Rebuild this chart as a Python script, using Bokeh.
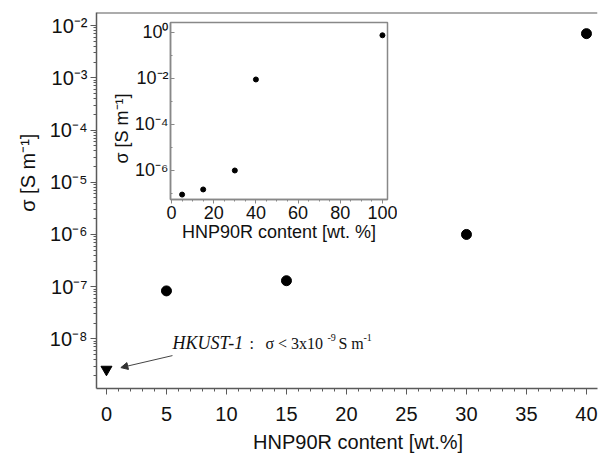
from bokeh.plotting import figure
from bokeh.models import (Range1d, FixedTicker, Span, Arrow, NormalHead,
                          ColumnDataSource, InlineStyleSheet)
from bokeh.layouts import column
from bokeh.embed import file_html
from bokeh.resources import INLINE
from bokeh.core.properties import value

# ---- data ----
content = [5, 15, 30, 40]
sigma = [8.3e-8, 1.3e-7, 1.0e-6, 7.0e-3]
hkust_content = [0]
hkust_sigma = [2.6e-9]

inset_content = [5, 15, 30, 40, 100]
inset_sigma = [9.0e-8, 1.5e-7, 1.0e-6, 9.0e-3, 0.75]

main_xticks = [0, 5, 10, 15, 20, 25, 30, 35, 40]
main_yticks = [1e-8, 1e-7, 1e-6, 1e-5, 1e-4, 1e-3, 1e-2]
main_ylabels = ["10⁻⁸", "10⁻⁷", "10⁻⁶", "10⁻⁵", "10⁻⁴", "10⁻³", "10⁻²"]
inset_xticks = [0, 20, 40, 60, 80, 100]
inset_yticks = [1e-6, 1e-4, 1e-2, 1e0]
inset_yminor = [1e-7, 1e-5, 1e-3, 1e-1]
inset_ylabels = ["10⁻⁶", "10⁻⁴", "10⁻²", "10⁰"]

annot_parts = ["HKUST-1", ":", "σ < 3x10", "-9", "S m", "-1"]
ylabel_text = "σ [S m⁻¹]"

FONT = "Liberation Sans"
SERIF = "Liberation Serif"
AXC = "#5a5a5a"
NBSP = "\u00a0"

# ---- main figure ----
p = figure(width=607, height=455, y_axis_type="log",
           x_range=Range1d(-0.83, 40.92), y_range=Range1d(10**-8.95, 10**-1.75),
           output_backend="svg", toolbar_location=None,
           min_border_left=96, min_border_right=10, min_border_top=12, min_border_bottom=64)
p.outline_line_color = None
p.grid.visible = False
p.background_fill_color = "white"

p.xaxis.ticker = FixedTicker(ticks=main_xticks,
                             minor_ticks=[i for i in range(0, 41)])
p.yaxis.ticker = FixedTicker(ticks=main_yticks,
                             minor_ticks=[m * 10.0**e for e in range(-9, -1) for m in range(2, 10)])
p.yaxis.major_label_overrides = {t: l for t, l in zip(main_yticks, main_ylabels)}

for ax in (p.xaxis[0], p.yaxis[0]):
    ax.axis_line_color = AXC
    ax.axis_line_width = 1.5
    ax.major_tick_line_color = AXC
    ax.minor_tick_line_color = AXC
    ax.major_tick_in = 0
    ax.major_tick_out = 6
    ax.minor_tick_in = 0
    ax.minor_tick_out = 3
    ax.major_label_text_font = FONT
    ax.major_label_text_font_size = "20px"
    ax.major_label_text_color = "#111"
    ax.axis_label_text_font = FONT
    ax.axis_label_text_font_size = "20px"
    ax.axis_label_text_font_style = "normal"
    ax.axis_label_text_color = "#111"

p.xaxis.axis_label = NBSP * 4 + "HNP90R content [wt.%]"
p.xaxis.major_label_standoff = 12
p.xaxis.axis_label_standoff = 7
p.yaxis.axis_label = NBSP * 10 + ylabel_text
p.yaxis.major_label_standoff = 3
p.yaxis.axis_label_standoff = 8

p.add_layout(Span(location=10**-1.75, dimension="width", line_color=AXC, line_width=2))

p.scatter(content, sigma, marker="circle", size=10, color="black")
p.scatter(hkust_content, hkust_sigma, marker="inverted_triangle", size=11, color="black")

# annotation
p.add_layout(Arrow(end=NormalHead(size=7, fill_color="#333", line_color="#333"),
                   x_start=5.5, y_start=10**-8.32, x_end=1.2, y_end=10**-8.55,
                   line_color="#444", line_width=1))
src = ColumnDataSource(dict(
    x=[5.5] * 6, y=[10**-8.08] * 6, text=annot_parts,
    xo=[0, 77, 93, 155, 166, 191], yo=[0, 0, 0, -6, 0, -6],
    fs=["18px", "16px", "16px", "10px", "16px", "10px"],
    st=["italic", "normal", "normal", "normal", "normal", "normal"]))
p.text(x="x", y="y", text="text", source=src, x_offset="xo", y_offset="yo",
       text_font_size="fs", text_font_style="st", text_font=value(SERIF),
       text_baseline="middle", text_align="left", text_color="#111")

# ---- inset ----
ins = figure(width=323, height=226, y_axis_type="log",
             x_range=Range1d(-0.5, 102.4), y_range=Range1d(10**-7.26, 10**0.43),
             output_backend="svg", toolbar_location=None,
             min_border_left=96, min_border_right=10, min_border_top=4, min_border_bottom=45)
ins.grid.visible = False
ins.outline_line_color = "#888"
ins.outline_line_width = 1.5
ins.background_fill_color = "white"
ins.border_fill_color = None
ins.xaxis.ticker = FixedTicker(ticks=inset_xticks, minor_ticks=list(range(0, 101, 5)))
ins.yaxis.ticker = FixedTicker(ticks=inset_yticks, minor_ticks=inset_yminor)
ins.yaxis.major_label_overrides = {t: l for t, l in zip(inset_yticks, inset_ylabels)}
for ax in (ins.xaxis[0], ins.yaxis[0]):
    ax.axis_line_color = "#888"
    ax.axis_line_width = 1.5
    ax.major_tick_line_color = "#888"
    ax.minor_tick_line_color = "#888"
    ax.major_label_text_font = FONT
    ax.major_label_text_font_size = "18px"
    ax.major_label_text_color = "#111"
    ax.axis_label_text_font = FONT
    ax.axis_label_text_font_size = "18px"
    ax.axis_label_text_font_style = "normal"
    ax.axis_label_text_color = "#111"
ins.xaxis.major_tick_in = 0
ins.xaxis.major_tick_out = 4
ins.xaxis.minor_tick_in = 0
ins.xaxis.minor_tick_out = 2
ins.yaxis.major_tick_in = 4
ins.yaxis.major_tick_out = 0
ins.yaxis.minor_tick_in = 2
ins.yaxis.minor_tick_out = 0
ins.xaxis.axis_label = "HNP90R content [wt. %]"
ins.xaxis.major_label_standoff = 2
ins.xaxis.axis_label_standoff = 0
ins.yaxis.axis_label = ylabel_text + NBSP * 7
ins.yaxis.major_label_standoff = 2
ins.yaxis.axis_label_standoff = 0
ins.scatter(inset_content, inset_sigma, marker="circle", size=5, color="black")

ins.stylesheets = [InlineStyleSheet(css=":host { position: absolute !important; left: 74px !important; top: 18px !important; }")]

layout = column(p, ins)
open("out.html", "w").write(file_html(layout, INLINE))
